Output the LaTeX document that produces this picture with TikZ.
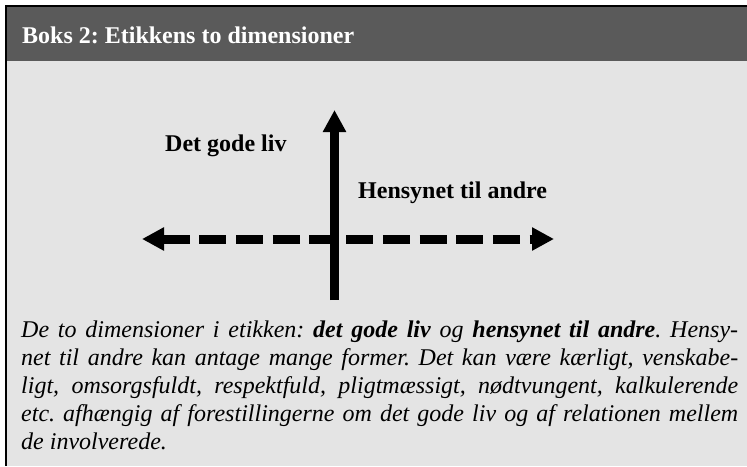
\documentclass[tikz,border=0pt]{standalone}
\usepackage{fontspec}
\setmainfont{Liberation Serif}
\usetikzlibrary{arrows.meta}
\definecolor{boxhead}{RGB}{90,90,90}
\definecolor{boxbody}{RGB}{228,228,228}
\tikzset{bigtip/.tip={Triangle[width=22pt,length=22pt]}}
\frenchspacing

\begin{document}
\begin{tikzpicture}[x=1pt,y=-1pt,
  lbl/.style={anchor=base west,inner sep=0pt,font=\fontsize{24}{28}\selectfont\bfseries},
  axis/.style={line width=9pt}]
\useasboundingbox (0,0) rectangle (747,466);
% box frame, header and body
\fill[white] (0,0) rectangle (747,466);
\fill[black] (5,5) rectangle (747,466);
\fill[boxhead] (7,7) rectangle (747,61);
\fill[boxbody] (7,61) rectangle (747,466);
\node [lbl,white] (title) at(22,43){Boks 2: Etikkens to dimensioner};
\node [lbl] (godeliv) at(165,151){Det gode liv};
\node [lbl] (hensyn) at(358,198){Hensynet til andre};
\coordinate (west) at(142,239);
\coordinate (east) at(554,239);
\coordinate (top) at(334.5,110);
\coordinate (bottom) at(334.5,300);
\draw[axis,bigtip-bigtip,dash pattern=on 27pt off 9.7pt](west) -- (east);
\draw[axis,-bigtip](bottom) -- (top);
%\node [draw] (center) at(334.5,239){};
\node [anchor=base west,inner sep=0pt,text width=717pt,align=justify,font=\fontsize{24}{28}\selectfont\itshape] (caption) at(21,337){De to dimensioner i etikken: \textbf{det gode liv} og \textbf{hensynet til andre}. Hensy-\linebreak net til andre kan antage mange former. Det kan være kærligt, venskabe-\linebreak ligt, omsorgsfuldt, respektfuld, pligtmæssigt, nødtvungent, kalkulerende\linebreak etc. afhængig af forestillingerne om det gode liv og af relationen mellem\linebreak de involverede.};
\end{tikzpicture}
\end{document}
